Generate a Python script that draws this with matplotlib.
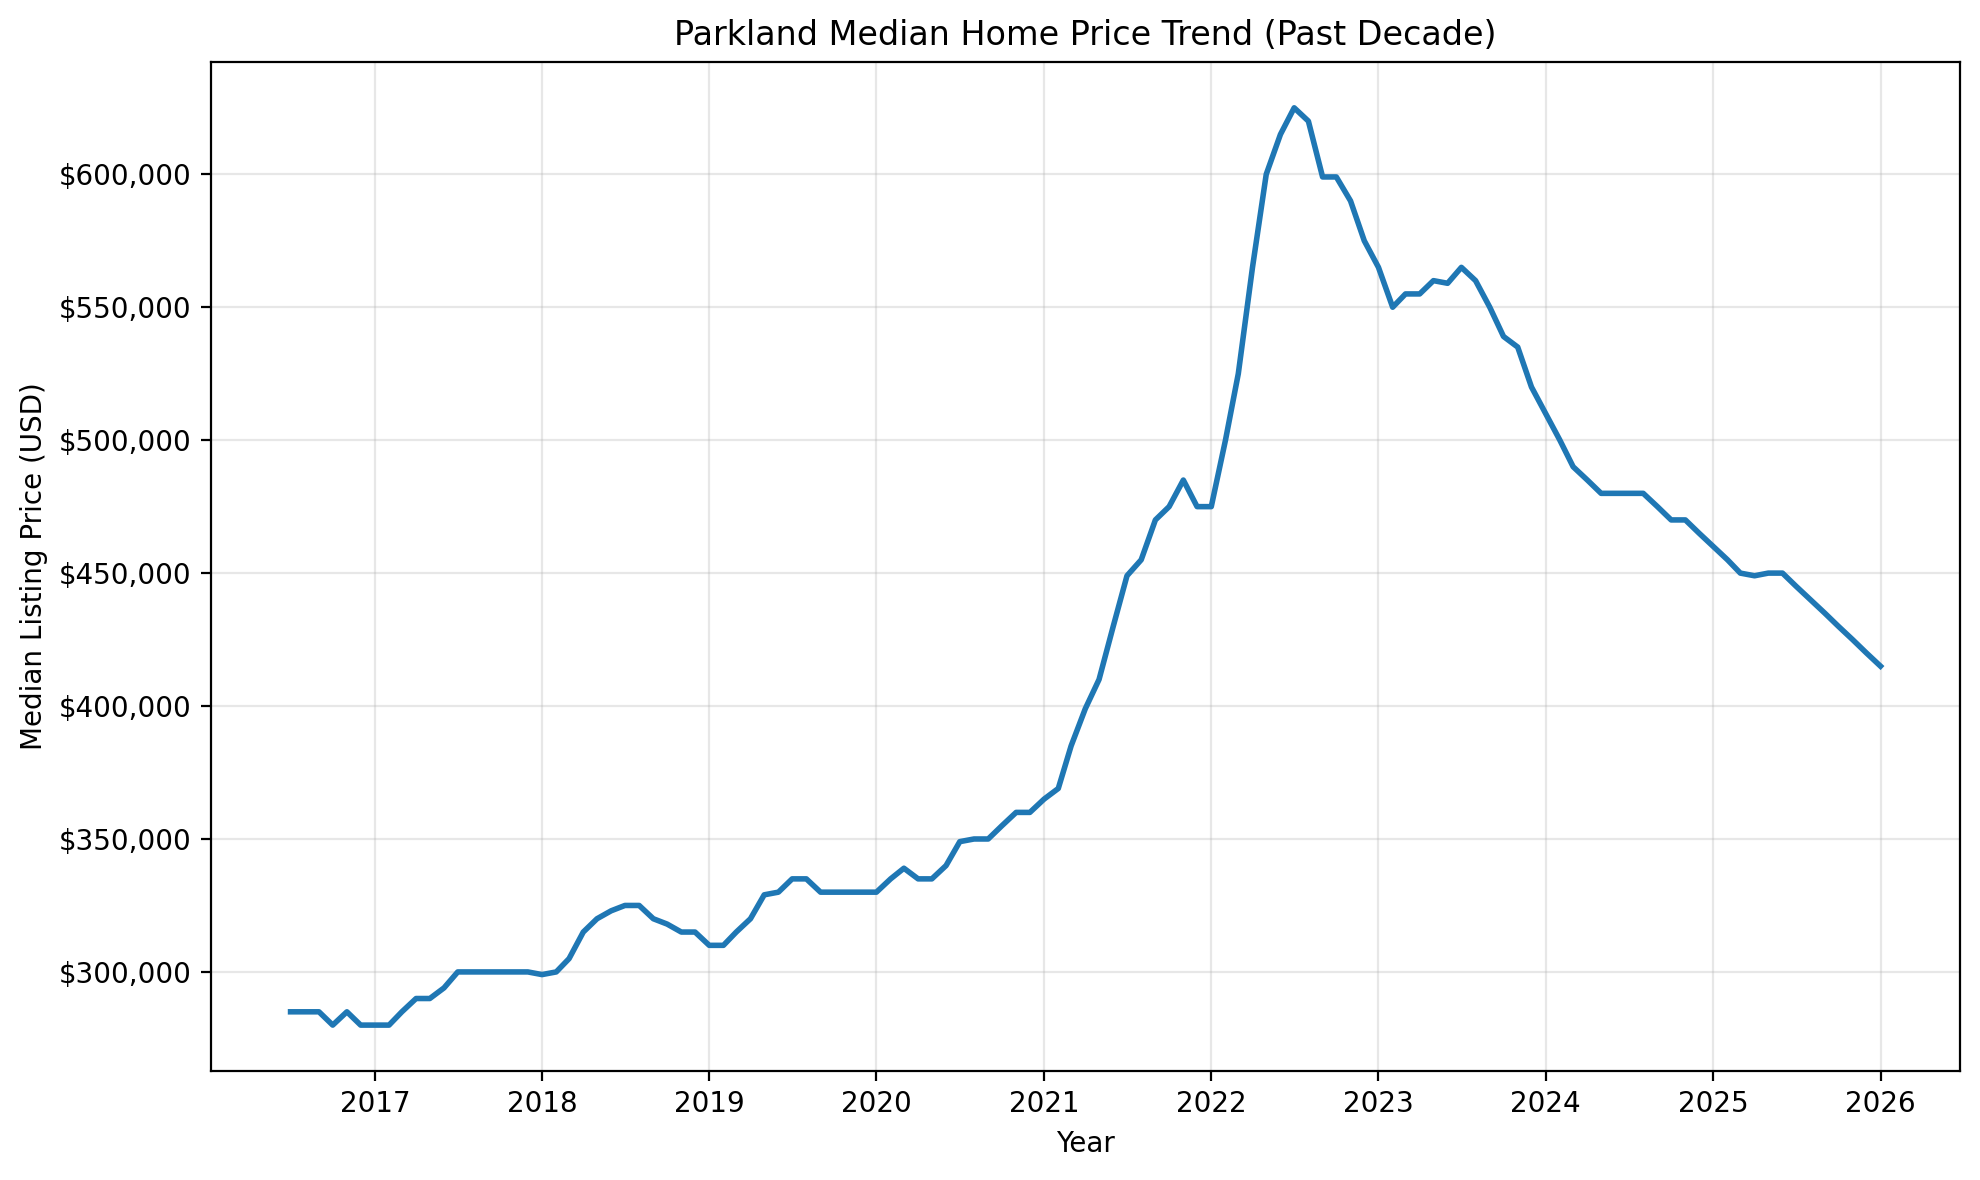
import matplotlib
matplotlib.use('Agg')
import matplotlib.pyplot as plt
import matplotlib.dates as mdates
import matplotlib.ticker as mticker
import pandas as pd

# monthly median listing price, Jul 2016 .. Jan 2026
start_month = '2016-07-01'
prices = [
    285000, 285000, 285000, 280000, 285000, 280000,                  # 2016 Jul-Dec
    280000, 280000, 285000, 290000, 290000, 294000,                  # 2017 Jan-Jun
    300000, 300000, 300000, 300000, 300000, 300000,                  # 2017 Jul-Dec
    299000, 300000, 305000, 315000, 320000, 323000,                  # 2018 Jan-Jun
    325000, 325000, 320000, 318000, 315000, 315000,                  # 2018 Jul-Dec
    310000, 310000, 315000, 320000, 329000, 330000,                  # 2019 Jan-Jun
    335000, 335000, 330000, 330000, 330000, 330000,                  # 2019 Jul-Dec
    330000, 335000, 339000, 335000, 335000, 340000,                  # 2020 Jan-Jun
    349000, 350000, 350000, 355000, 360000, 360000,                  # 2020 Jul-Dec
    365000, 369000, 385000, 399000, 410000, 430000,                  # 2021 Jan-Jun
    449000, 455000, 470000, 475000, 485000, 475000,                  # 2021 Jul-Dec
    475000, 500000, 525000, 565000, 600000, 615000,                  # 2022 Jan-Jun
    625000, 620000, 599000, 599000, 590000, 575000,                  # 2022 Jul-Dec
    565000, 550000, 555000, 555000, 560000, 559000,                  # 2023 Jan-Jun
    565000, 560000, 550000, 539000, 535000, 520000,                  # 2023 Jul-Dec
    510000, 500000, 490000, 485000, 480000, 480000,                  # 2024 Jan-Jun
    480000, 480000, 475000, 470000, 470000, 465000,                  # 2024 Jul-Dec
    460000, 455000, 450000, 449000, 450000, 450000,                  # 2025 Jan-Jun
    445000, 440000, 435000, 430000, 425000, 420000,                  # 2025 Jul-Dec
    415000,                                                          # 2026 Jan
]
dates = pd.date_range(start_month, periods=len(prices), freq='MS')

fig = plt.figure(figsize=(9.9, 5.9), dpi=200)
ax = fig.add_axes([0.1066, 0.0924, 0.8833, 0.8551])

ax.plot(dates, prices, color='#1f77b4', linewidth=2)

ax.set_title('Parkland Median Home Price Trend (Past Decade)', fontsize=12)
ax.set_xlabel('Year')
ax.set_ylabel('Median Listing Price (USD)')

ax.xaxis.set_major_locator(mdates.YearLocator())
ax.xaxis.set_major_formatter(mdates.DateFormatter('%Y'))
ax.yaxis.set_major_formatter(mticker.StrMethodFormatter('${x:,.0f}'))
ax.grid(True, alpha=0.3)

fig.savefig('out.png', dpi=200)
